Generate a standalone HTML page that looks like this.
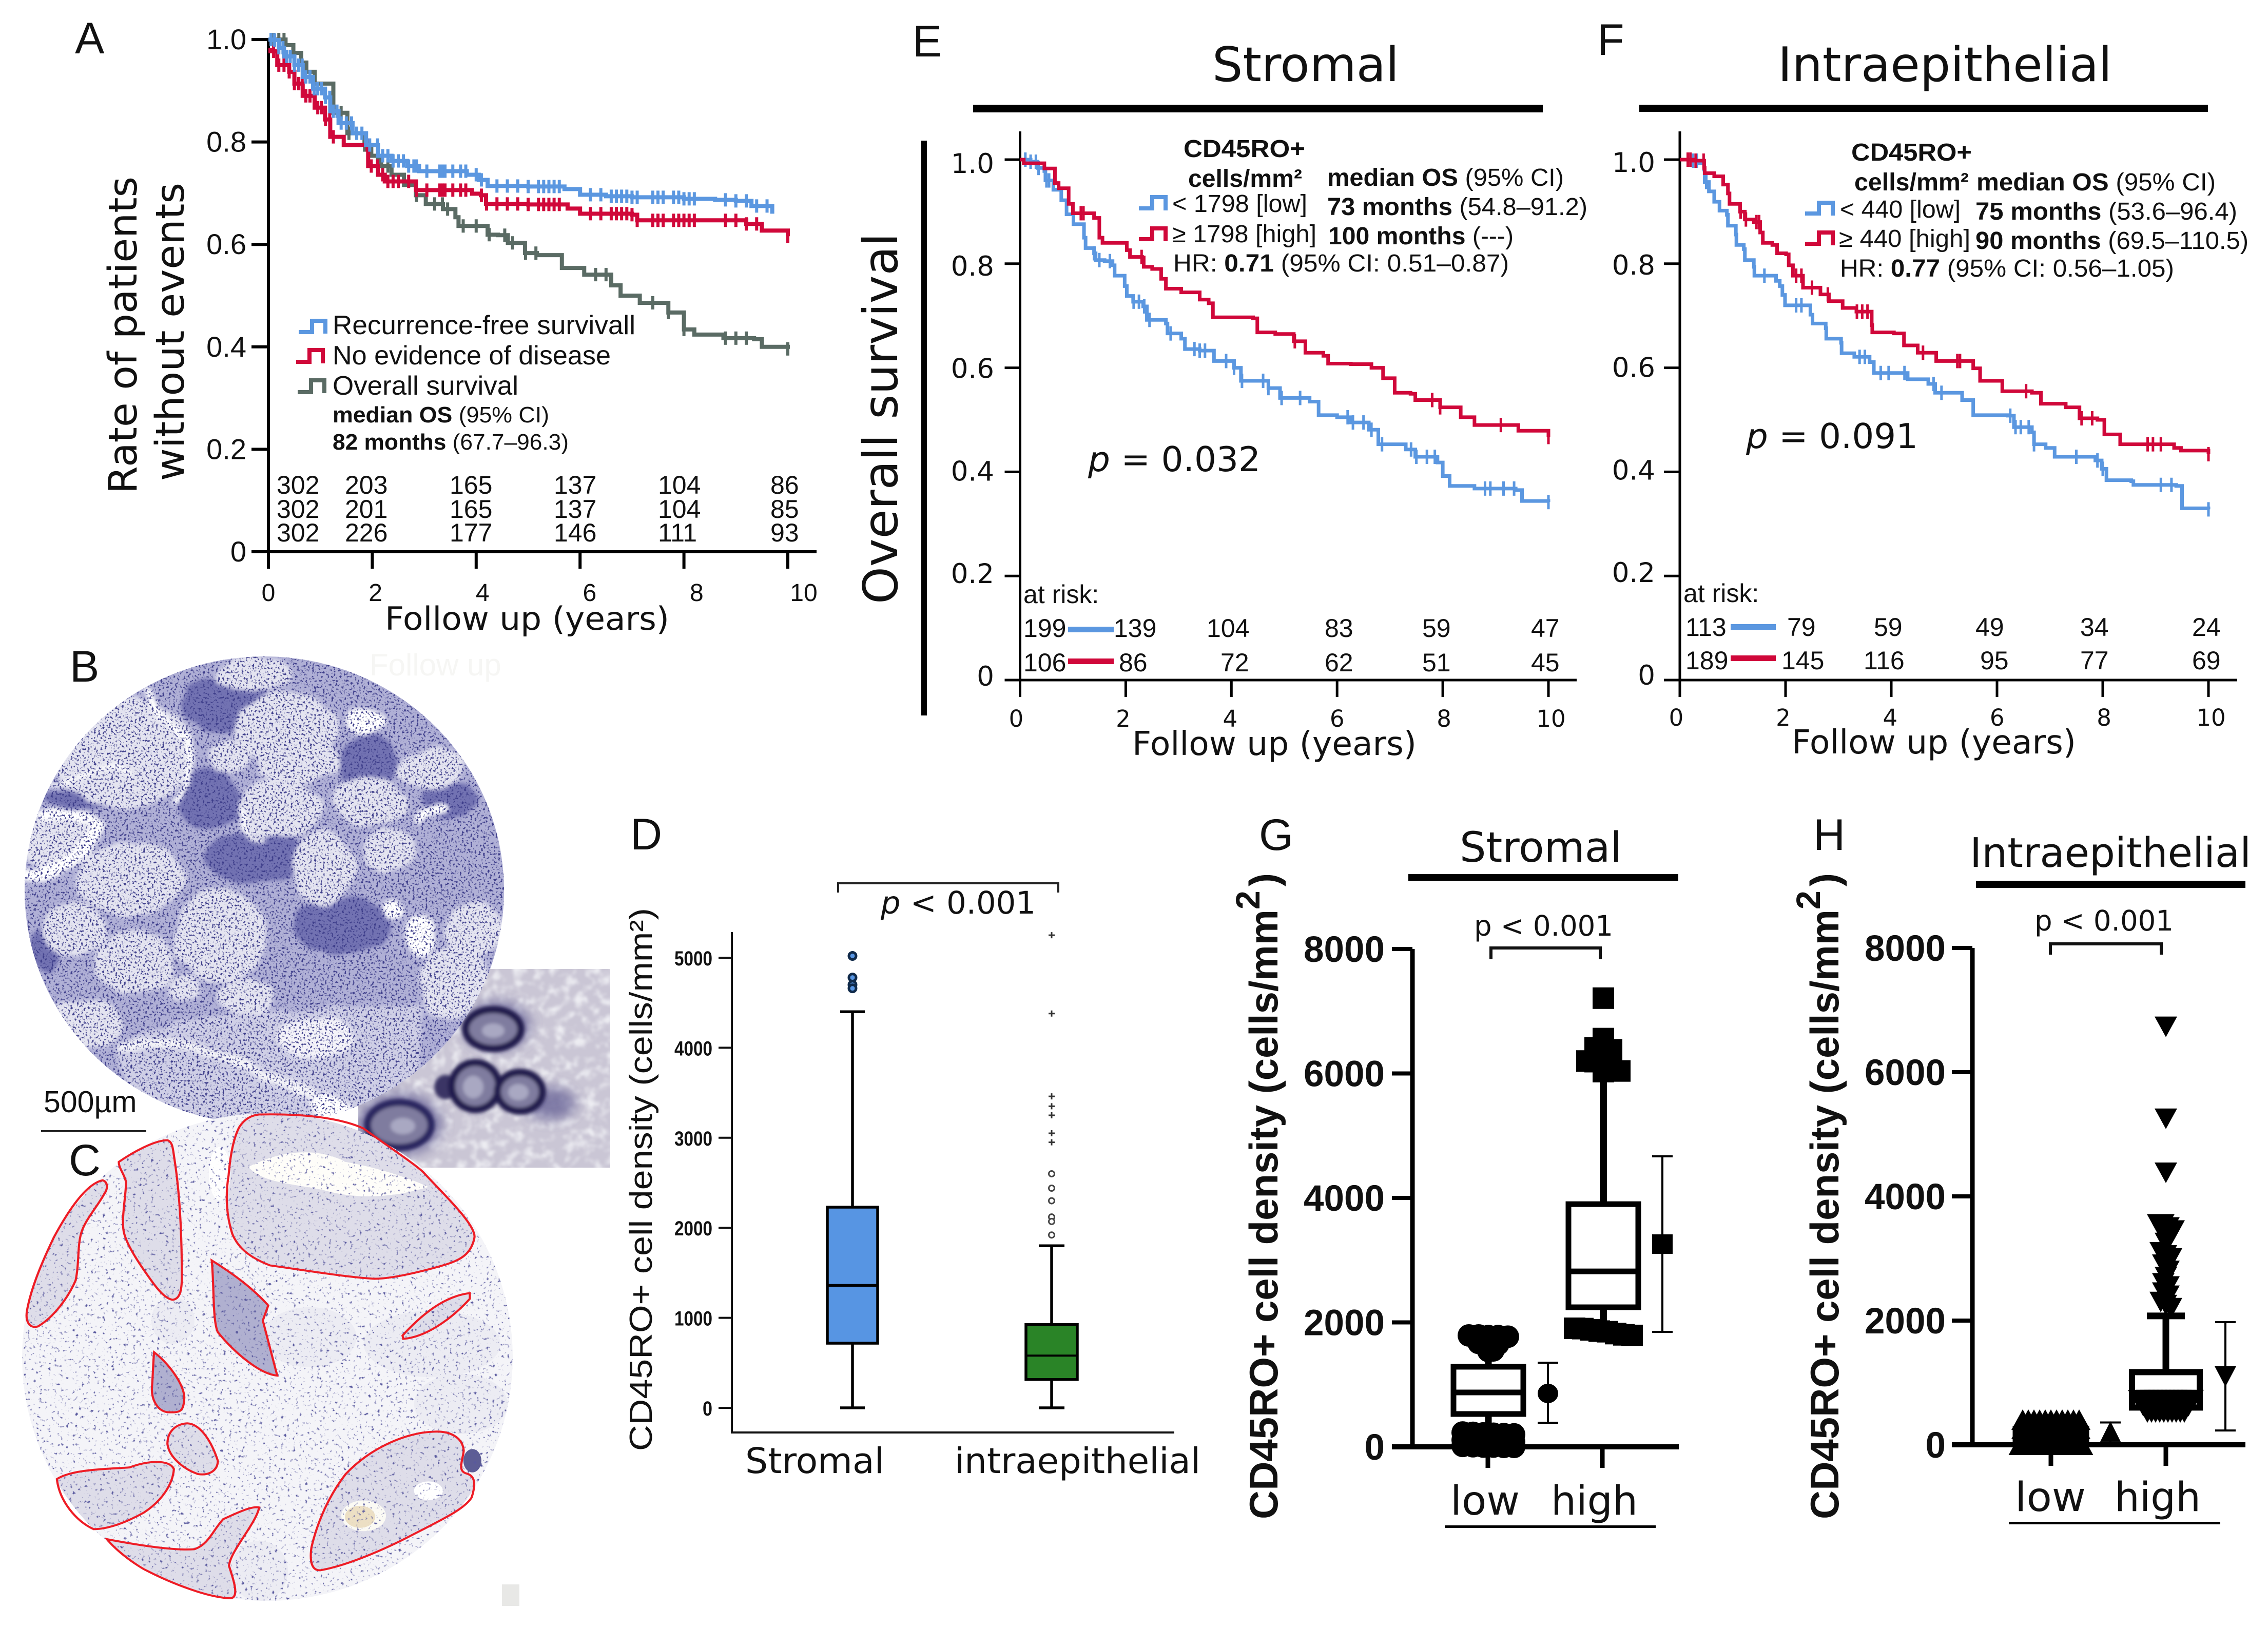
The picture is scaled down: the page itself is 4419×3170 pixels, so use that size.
<!DOCTYPE html>
<html lang="en">
<head>
<meta charset="utf-8">
<title>CD45RO+ survival and density figure</title>
<style>
html,body{margin:0;padding:0;background:#fff;}
svg{display:block;}
.ls{font-family:"Liberation Sans",sans-serif;}
.dj{font-family:"DejaVu Sans",sans-serif;}
text{fill:#111;}
.b{font-weight:700;}
.pl{font-family:"Liberation Sans",sans-serif;font-size:86px;}
</style>
</head>
<body>
<svg id="fig" xmlns="http://www.w3.org/2000/svg" width="4419" height="3170" viewBox="0 0 4419 3170">
<defs>
<filter id="speckleB" x="0" y="1250" width="1100" height="1000" filterUnits="userSpaceOnUse" color-interpolation-filters="sRGB">
<feTurbulence type="fractalNoise" baseFrequency=".018" numOctaves="2" seed="5" result="warp"/>
<feDisplacementMap in="SourceGraphic" in2="warp" scale="24" xChannelSelector="R" yChannelSelector="G" result="d"/>
<feGaussianBlur in="d" stdDeviation="4" result="base"/>
<feTurbulence type="fractalNoise" baseFrequency=".24" numOctaves="2" seed="3" result="n"/>
<feColorMatrix in="n" type="matrix" values="0 0 0 0 .24  0 0 0 0 .24  0 0 0 0 .54  7 0 0 0 -3.9" result="s"/>
<feComposite in="s" in2="SourceAlpha" operator="in" result="c"/>
<feMerge><feMergeNode in="base"/><feMergeNode in="c"/></feMerge>
</filter>
<filter id="speckleC" x="0" y="2150" width="1100" height="1000" filterUnits="userSpaceOnUse" color-interpolation-filters="sRGB">
<feTurbulence type="fractalNoise" baseFrequency=".17" numOctaves="2" seed="8" result="n"/>
<feColorMatrix in="n" type="matrix" values="0 0 0 0 .35  0 0 0 0 .35  0 0 0 0 .62  6 0 0 0 -3.8" result="s"/>
<feComposite in="s" in2="SourceAlpha" operator="in" result="c"/>
<feMerge><feMergeNode in="SourceGraphic"/><feMergeNode in="c"/></feMerge>
</filter>
<filter id="insetTexture" x="690" y="1880" width="510" height="400" filterUnits="userSpaceOnUse" color-interpolation-filters="sRGB">
<feTurbulence type="fractalNoise" baseFrequency=".05" numOctaves="3" seed="11" result="n"/>
<feColorMatrix in="n" type="matrix" values="0 0 0 0 .93  0 0 0 0 .93  0 0 0 0 .95  3 0 0 0 -1.35" result="w"/>
<feGaussianBlur in="w" stdDeviation="2.5" result="wb"/>
<feComposite in="wb" in2="SourceAlpha" operator="in" result="c"/>
<feMerge><feMergeNode in="SourceGraphic"/><feMergeNode in="c"/></feMerge>
</filter>
<filter id="soft" x="660" y="1860" width="560" height="440" filterUnits="userSpaceOnUse"><feGaussianBlur stdDeviation="3.5"/></filter>
<filter id="softer" x="660" y="1860" width="560" height="440" filterUnits="userSpaceOnUse"><feGaussianBlur stdDeviation="12"/></filter>
<clipPath id="clipB"><ellipse cx="515" cy="1735" rx="467" ry="456"/></clipPath>
<clipPath id="clipC"><ellipse cx="521" cy="2644" rx="478" ry="475"/></clipPath>
<clipPath id="clipInset"><rect x="698" y="1888" width="491" height="387"/></clipPath>
</defs>
<rect width="4419" height="3170" fill="#fff"/>

<!-- Panel labels -->
<text class="pl" x="146" y="104">A</text>
<text class="pl" x="136" y="1328">B</text>
<text class="pl" x="134" y="2290">C</text>
<text class="pl" x="1228" y="1655">D</text>
<text class="pl" x="1778" y="110">E</text>
<text class="pl" x="3112" y="107">F</text>
<text class="pl" x="2453" y="1656">G</text>
<text class="pl" x="3533" y="1656">H</text>

<text class="ls" x="720" y="1316" font-size="60" style="fill:#f6f6f4">Follow up</text>

<!-- Inset sits under the two tissue cores -->
<g clip-path="url(#clipInset)">
<rect x="698" y="1888" width="491" height="387" fill="#cac6d5" filter="url(#insetTexture)"/>
<g filter="url(#softer)" fill="#5d5890" opacity=".7">
<ellipse cx="1072" cy="2150" rx="50" ry="32"/><ellipse cx="778" cy="2190" rx="84" ry="62"/><ellipse cx="968" cy="1998" rx="66" ry="48"/>
</g>
<g filter="url(#soft)">
<ellipse cx="868" cy="2118" rx="22" ry="24" fill="#3a3565"/>
<g stroke="#201b4e" stroke-width="14" fill="#7f7c9f">
<ellipse cx="961" cy="2005" rx="54" ry="38"/>
<ellipse cx="926" cy="2116" rx="46" ry="46"/>
<ellipse cx="1013" cy="2127" rx="44" ry="38"/>
<ellipse cx="778" cy="2192" rx="62" ry="44" stroke="#2c2760"/>
</g>
<g fill="#a9a8c2"><ellipse cx="961" cy="2008" rx="22" ry="14"/><ellipse cx="922" cy="2118" rx="20" ry="22"/><ellipse cx="1010" cy="2128" rx="20" ry="16"/><ellipse cx="785" cy="2194" rx="24" ry="16"/></g>
</g>
</g>

<!-- Panel B tissue -->
<g clip-path="url(#clipB)">
<g filter="url(#speckleB)">
<g transform="translate(0,1250) scale(.797,.638)">
<ellipse cx="647" cy="760" rx="640" ry="780" fill="#b0b0d6"/>
<g fill="#7272b2">
<ellipse cx="550" cy="190" rx="110" ry="90"/><ellipse cx="510" cy="480" rx="75" ry="95"/><ellipse cx="630" cy="660" rx="130" ry="75"/>
<ellipse cx="900" cy="380" rx="70" ry="100"/><ellipse cx="830" cy="870" rx="120" ry="85"/><ellipse cx="1100" cy="480" rx="70" ry="60"/><ellipse cx="110" cy="940" rx="40" ry="70"/>
<ellipse cx="200" cy="480" rx="100" ry="28"/>
</g>
<g fill="#e4e4f0">
<ellipse cx="300" cy="340" rx="172" ry="168"/><ellipse cx="140" cy="610" rx="92" ry="86"/><ellipse cx="320" cy="725" rx="132" ry="112"/>
<ellipse cx="180" cy="880" rx="80" ry="84"/><ellipse cx="330" cy="980" rx="98" ry="95"/><ellipse cx="540" cy="900" rx="116" ry="142"/>
<ellipse cx="600" cy="1085" rx="68" ry="52"/><ellipse cx="450" cy="1060" rx="42" ry="42"/><ellipse cx="700" cy="270" rx="125" ry="112"/>
<ellipse cx="730" cy="370" rx="104" ry="64"/><ellipse cx="560" cy="350" rx="50" ry="50"/><ellipse cx="620" cy="100" rx="92" ry="55"/>
<ellipse cx="680" cy="510" rx="104" ry="92"/><ellipse cx="790" cy="690" rx="76" ry="112"/><ellipse cx="900" cy="490" rx="90" ry="72"/>
<ellipse cx="950" cy="640" rx="66" ry="66"/><ellipse cx="1050" cy="390" rx="82" ry="62"/><ellipse cx="1160" cy="880" rx="76" ry="80"/>
<ellipse cx="1110" cy="1040" rx="86" ry="112"/><ellipse cx="200" cy="1170" rx="96" ry="72"/><ellipse cx="510" cy="1420" rx="56" ry="36"/>
</g>
<path d="M280 1230 C 480 1110 760 1120 1040 1110 L 1000 1490 L 350 1490Z" fill="#cfcfe6"/>
<ellipse cx="770" cy="1210" rx="95" ry="65" fill="#f4f3f9"/>
<g fill="none" stroke="#fff" stroke-linecap="round">
<path d="M60 715 C 140 710 200 660 240 560 C 220 530 170 525 100 525" stroke-width="34"/>
<path d="M120 440 C 200 425 250 380 290 380 L 320 400" stroke-width="12"/>
<path d="M355 150 C 385 200 400 265 460 300 C 470 380 460 450 430 490" stroke-width="15"/>
<path d="M1020 535 L 1085 510" stroke-width="30"/>
<path d="M580 510 C 590 570 610 600 640 605" stroke-width="14"/>
<path d="M300 1240 C 440 1180 600 1300 760 1380" stroke="#f4f4f8" stroke-width="28"/>
</g>
<g fill="#fff"><ellipse cx="1030" cy="900" rx="35" ry="65"/><ellipse cx="960" cy="820" rx="30" ry="28"/><ellipse cx="893" cy="245" rx="44" ry="40"/>
<path d="M760 1400 L 800 1370 L 860 1420 L 820 1470 L 770 1460Z"/></g>
</g>
</g>
</g>

<!-- Scale bar -->
<text class="ls" x="85" y="2167" font-size="59">500µm</text>
<rect x="80" y="2202" width="205" height="4" fill="#222"/>

<!-- Panel C tissue -->
<g clip-path="url(#clipC)" filter="url(#speckleC)">
<ellipse cx="521" cy="2644" rx="478" ry="475" fill="#f4f4f8"/>
<g transform="translate(0,2150) scale(.7015,.6505)">
<g fill="#c9c9e2" opacity=".18">
<ellipse cx="1200" cy="720" rx="190" ry="100"/><ellipse cx="720" cy="1400" rx="80" ry="90"/><ellipse cx="860" cy="700" rx="130" ry="90"/><ellipse cx="1280" cy="900" rx="130" ry="90"/><ellipse cx="480" cy="650" rx="60" ry="70"/>
</g>
<g fill="#dedde9" stroke="none">
<path d="M720 33 C850 30 950 45 1010 75 C1080 130 1150 180 1175 205 C1230 270 1320 360 1318 400 C1310 450 1280 470 1230 485 C1150 510 1080 525 1040 525 C960 520 850 500 750 485 C690 460 660 430 645 390 C630 340 625 280 635 215 C640 150 650 100 665 70 C680 45 700 35 720 33Z"/>
<path d="M330 175 C370 145 430 110 465 110 C480 115 480 135 485 170 C495 240 505 350 505 520 C505 560 500 585 480 588 C460 585 440 560 420 530 C390 485 355 430 345 390 C335 350 350 280 350 235 C345 210 330 195 330 175Z"/>
<path d="M285 230 C300 235 300 255 290 270 C270 310 235 350 225 390 C215 430 220 480 210 530 C190 580 150 640 105 668 C80 675 70 650 75 620 C85 560 110 490 150 400 C190 320 240 240 285 230Z"/>
<path d="M1305 568 C1250 575 1190 610 1118 695 L1120 705 C1180 700 1250 650 1305 585Z"/>
<path d="M520 958 C560 960 590 1020 605 1070 C605 1100 580 1115 550 1110 C510 1095 470 1060 465 1020 C465 980 490 960 520 958Z"/>
<path d="M158 1125 C200 1095 300 1095 360 1090 C410 1070 470 1065 483 1095 C480 1140 450 1190 400 1225 C350 1255 300 1275 260 1275 C210 1250 165 1190 158 1125Z"/>
<path d="M297 1305 C370 1320 480 1340 540 1335 C580 1320 590 1280 620 1245 C660 1225 700 1205 720 1210 C710 1260 640 1340 636 1385 C650 1430 665 1480 640 1482 C580 1480 480 1440 400 1395 C360 1370 320 1335 297 1305Z"/>
<path d="M1205 983 C1250 980 1285 1000 1288 1040 C1285 1070 1270 1100 1295 1108 C1320 1115 1322 1140 1310 1180 C1290 1215 1230 1245 1140 1295 C1060 1340 960 1385 890 1398 C865 1400 860 1370 865 1330 C880 1260 910 1180 960 1110 C1030 1030 1130 985 1205 983Z"/>
<path fill="#b0b0d0" d="M588 470 C640 505 700 550 745 605 L730 650 L770 815 C720 810 650 745 605 685 C590 650 595 540 588 470Z"/>
<path fill="#b0b0d0" d="M428 745 C470 780 510 840 512 880 C510 925 500 925 470 925 C440 925 420 890 422 850 C425 810 425 780 428 745Z"/>
</g>
<path d="M690 190 C780 140 880 130 960 175 C1040 190 1130 220 1190 250 C1100 280 1000 290 900 260 C820 240 730 240 690 190Z" fill="#fefdf9"/>
<ellipse cx="610" cy="210" rx="30" ry="80" fill="#fefefe"/>
<ellipse cx="1190" cy="1160" rx="40" ry="28" fill="#fff"/>
<ellipse cx="1010" cy="1235" rx="62" ry="46" fill="#fbfaf4"/>
<ellipse cx="1000" cy="1238" rx="42" ry="33" fill="#ecdfc4"/>
<ellipse cx="1312" cy="1070" rx="25" ry="35" fill="#5d5d95"/>
</g>
</g>
<g transform="translate(0,2150) scale(.7015,.6505)" fill="none" stroke="#ee1c25" stroke-width="6">
<path d="M720 33 C850 30 950 45 1010 75 C1080 130 1150 180 1175 205 C1230 270 1320 360 1318 400 C1310 450 1280 470 1230 485 C1150 510 1080 525 1040 525 C960 520 850 500 750 485 C690 460 660 430 645 390 C630 340 625 280 635 215 C640 150 650 100 665 70 C680 45 700 35 720 33Z"/>
<path d="M330 175 C370 145 430 110 465 110 C480 115 480 135 485 170 C495 240 505 350 505 520 C505 560 500 585 480 588 C460 585 440 560 420 530 C390 485 355 430 345 390 C335 350 350 280 350 235 C345 210 330 195 330 175Z"/>
<path d="M285 230 C300 235 300 255 290 270 C270 310 235 350 225 390 C215 430 220 480 210 530 C190 580 150 640 105 668 C80 675 70 650 75 620 C85 560 110 490 150 400 C190 320 240 240 285 230Z"/>
<path d="M588 470 C640 505 700 550 745 605 L730 650 L770 815 C720 810 650 745 605 685 C590 650 595 540 588 470Z"/>
<path d="M1305 568 C1250 575 1190 610 1118 695 L1120 705 C1180 700 1250 650 1305 585Z"/>
<path d="M428 745 C470 780 510 840 512 880 C510 925 500 925 470 925 C440 925 420 890 422 850 C425 810 425 780 428 745Z"/>
<path d="M520 958 C560 960 590 1020 605 1070 C605 1100 580 1115 550 1110 C510 1095 470 1060 465 1020 C465 980 490 960 520 958Z"/>
<path d="M158 1125 C200 1095 300 1095 360 1090 C410 1070 470 1065 483 1095 C480 1140 450 1190 400 1225 C350 1255 300 1275 260 1275 C210 1250 165 1190 158 1125Z"/>
<path d="M297 1305 C370 1320 480 1340 540 1335 C580 1320 590 1280 620 1245 C660 1225 700 1205 720 1210 C710 1260 640 1340 636 1385 C650 1430 665 1480 640 1482 C580 1480 480 1440 400 1395 C360 1370 320 1335 297 1305Z"/>
<path d="M1205 983 C1250 980 1285 1000 1288 1040 C1285 1070 1270 1100 1295 1108 C1320 1115 1322 1140 1310 1180 C1290 1215 1230 1245 1140 1295 C1060 1340 960 1385 890 1398 C865 1400 860 1370 865 1330 C880 1260 910 1180 960 1110 C1030 1030 1130 985 1205 983Z"/>
</g>
<rect x="978" y="3087" width="34" height="42" fill="#e8e8e6"/>

<!-- Panel A static text -->
<text class="dj" transform="translate(266,962) rotate(-90)" font-size="77" textLength="618" lengthAdjust="spacingAndGlyphs">Rate of patients</text>
<text class="dj" transform="translate(358,937) rotate(-90)" font-size="77" textLength="581" lengthAdjust="spacingAndGlyphs">without events</text>
<text class="dj" x="750" y="1227" font-size="62" textLength="554" lengthAdjust="spacingAndGlyphs">Follow up (years)</text>
<g fill="none" stroke-width="8">
<path d="M582 647 H608 V625 H634 V650" stroke="#5b97e0"/>
<path d="M577 705 H603 V682 H629 V708" stroke="#d0083a"/>
<path d="M580 764 H606 V741 H632 V766" stroke="#5a6b64"/>
</g>
<g class="ls" font-size="52">
<text x="648" y="651" textLength="590" lengthAdjust="spacingAndGlyphs">Recurrence-free survivall</text>
<text x="648" y="710" textLength="542" lengthAdjust="spacingAndGlyphs">No evidence of disease</text>
<text x="648" y="769" textLength="362" lengthAdjust="spacingAndGlyphs">Overall survival</text>
</g>
<g class="ls" font-size="44">
<text x="648" y="823" textLength="422" lengthAdjust="spacingAndGlyphs"><tspan class="b">median OS</tspan> (95% CI)</text>
<text x="648" y="876" textLength="460" lengthAdjust="spacingAndGlyphs"><tspan class="b">82 months</tspan> (67.7–96.3)</text>
</g>
<g class="ls" font-size="50">
<text x="539" y="962">302</text><text x="672" y="962">203</text><text x="876" y="962">165</text><text x="1079" y="962">137</text><text x="1282" y="962">104</text><text x="1501" y="962">86</text>
<text x="539" y="1009">302</text><text x="672" y="1009">201</text><text x="876" y="1009">165</text><text x="1079" y="1009">137</text><text x="1282" y="1009">104</text><text x="1501" y="1009">85</text>
<text x="539" y="1055">302</text><text x="672" y="1055">226</text><text x="876" y="1055">177</text><text x="1079" y="1055">146</text><text x="1282" y="1055">111</text><text x="1501" y="1055">93</text>
</g>

<!-- Panel E static -->
<text class="dj" x="2362" y="158" font-size="93" textLength="364" lengthAdjust="spacingAndGlyphs">Stromal</text>
<rect x="1896" y="204" width="1110" height="15" fill="#000"/>
<rect x="1795" y="274" width="11" height="1120" fill="#000"/>
<text class="dj" transform="translate(1748,1177) rotate(-90)" font-size="93" textLength="723" lengthAdjust="spacingAndGlyphs">Overall survival</text>
<text class="dj" x="2206" y="1471" font-size="64" textLength="554" lengthAdjust="spacingAndGlyphs">Follow up (years)</text>
<text class="dj" x="2120" y="918" font-size="67" textLength="336" lengthAdjust="spacingAndGlyphs"><tspan font-style="italic">p</tspan> = 0.032</text>
<g class="ls" font-size="48">
<text class="b" x="2306" y="306" textLength="237" lengthAdjust="spacingAndGlyphs">CD45RO+</text>
<text class="b" x="2315" y="364" textLength="222" lengthAdjust="spacingAndGlyphs">cells/mm²</text>
<text x="2586" y="362" textLength="461" lengthAdjust="spacingAndGlyphs"><tspan class="b">median OS</tspan> (95% CI)</text>
<text x="2284" y="413" textLength="263" lengthAdjust="spacingAndGlyphs">&lt; 1798 [low]</text>
<text x="2586" y="419" textLength="507" lengthAdjust="spacingAndGlyphs"><tspan class="b">73 months</tspan> (54.8–91.2)</text>
<text x="2284" y="472" textLength="281" lengthAdjust="spacingAndGlyphs">≥ 1798 [high]</text>
<text x="2588" y="476" textLength="361" lengthAdjust="spacingAndGlyphs"><tspan class="b">100 months</tspan> (---)</text>
<text x="2286" y="529" textLength="654" lengthAdjust="spacingAndGlyphs">HR: <tspan class="b">0.71</tspan> (95% CI: 0.51–0.87)</text>
</g>
<path d="M2219 406 H2245 V384 H2271 V410" fill="none" stroke="#5b97e0" stroke-width="8"/>
<path d="M2219 466 H2245 V445 H2271 V470" fill="none" stroke="#d0083a" stroke-width="8"/>
<g class="ls" font-size="50">
<text x="1994" y="1175">at risk:</text>
<text x="1994" y="1241">199</text><text x="2170" y="1241">139</text><text x="2351" y="1241">104</text><text x="2581" y="1241">83</text><text x="2771" y="1241">59</text><text x="2983" y="1241">47</text>
<text x="1994" y="1308">106</text><text x="2180" y="1308">86</text><text x="2378" y="1308">72</text><text x="2581" y="1308">62</text><text x="2771" y="1308">51</text><text x="2983" y="1308">45</text>
</g>
<rect x="2081" y="1221" width="89" height="11" fill="#5b97e0"/>
<rect x="2081" y="1283" width="89" height="11" fill="#d0083a"/>

<!-- Panel F static -->
<text class="dj" x="3464" y="158" font-size="93" textLength="651" lengthAdjust="spacingAndGlyphs">Intraepithelial</text>
<rect x="3194" y="204" width="1108" height="14" fill="#000"/>
<text class="dj" x="3491" y="1468" font-size="64" textLength="554" lengthAdjust="spacingAndGlyphs">Follow up (years)</text>
<text class="dj" x="3402" y="873" font-size="67" textLength="335" lengthAdjust="spacingAndGlyphs"><tspan font-style="italic">p</tspan> = 0.091</text>
<g class="ls" font-size="48">
<text class="b" x="3607" y="313" textLength="235" lengthAdjust="spacingAndGlyphs">CD45RO+</text>
<text class="b" x="3613" y="371" textLength="223" lengthAdjust="spacingAndGlyphs">cells/mm²</text>
<text x="3851" y="371" textLength="466" lengthAdjust="spacingAndGlyphs"><tspan class="b">median OS</tspan> (95% CI)</text>
<text x="3585" y="424" textLength="235" lengthAdjust="spacingAndGlyphs">&lt; 440 [low]</text>
<text x="3849" y="428" textLength="510" lengthAdjust="spacingAndGlyphs"><tspan class="b">75 months</tspan> (53.6–96.4)</text>
<text x="3583" y="481" textLength="256" lengthAdjust="spacingAndGlyphs">≥ 440 [high]</text>
<text x="3849" y="485" textLength="532" lengthAdjust="spacingAndGlyphs"><tspan class="b">90 months</tspan> (69.5–110.5)</text>
<text x="3585" y="539" textLength="651" lengthAdjust="spacingAndGlyphs">HR: <tspan class="b">0.77</tspan> (95% CI: 0.56–1.05)</text>
</g>
<path d="M3517 416 H3544 V395 H3571 V420" fill="none" stroke="#5b97e0" stroke-width="8"/>
<path d="M3517 475 H3544 V453 H3571 V478" fill="none" stroke="#d0083a" stroke-width="8"/>
<g class="ls" font-size="50">
<text x="3280" y="1173">at risk:</text>
<text x="3284" y="1239">113</text><text x="3482" y="1239">79</text><text x="3651" y="1239">59</text><text x="3849" y="1239">49</text><text x="4053" y="1239">34</text><text x="4271" y="1239">24</text>
<text x="3284" y="1304">189</text><text x="3471" y="1304">145</text><text x="3631" y="1304">116</text><text x="3858" y="1304">95</text><text x="4053" y="1304">77</text><text x="4271" y="1304">69</text>
</g>
<rect x="3372" y="1216" width="88" height="11" fill="#5b97e0"/>
<rect x="3372" y="1277" width="88" height="11" fill="#d0083a"/>

<!-- Panel D static -->
<text class="ls" transform="translate(1270,2827) rotate(-90)" font-size="62" textLength="1058" lengthAdjust="spacingAndGlyphs">CD45RO+ cell density (cells/mm²)</text>
<path d="M1633 1739 V1721 H2062 V1739" fill="none" stroke="#222" stroke-width="4"/>
<text class="dj" x="1716" y="1780" font-size="61" textLength="302" lengthAdjust="spacingAndGlyphs"><tspan font-style="italic">p</tspan> &lt; 0.001</text>
<text class="dj" x="1452" y="2870" font-size="69" textLength="271" lengthAdjust="spacingAndGlyphs">Stromal</text>
<text class="dj" x="1860" y="2870" font-size="69" textLength="479" lengthAdjust="spacingAndGlyphs">intraepithelial</text>

<!-- Panel G static -->
<text class="dj" x="2844" y="1679" font-size="81" textLength="316" lengthAdjust="spacingAndGlyphs">Stromal</text>
<rect x="2744" y="1703" width="526" height="13" fill="#000"/>
<text class="dj" x="2872" y="1823" font-size="55" textLength="271" lengthAdjust="spacingAndGlyphs">p &lt; 0.001</text>
<path d="M2905 1869 V1847 H3118 V1869" fill="none" stroke="#111" stroke-width="6"/>
<text class="ls b" transform="translate(2489,2960) rotate(-90)" font-size="78" textLength="1188" lengthAdjust="spacingAndGlyphs">CD45RO+ cell density (cells/mm</text>
<text class="ls b" transform="translate(2454,1772) rotate(-90)" font-size="66">2</text>
<text class="ls b" transform="translate(2489,1727) rotate(-90)" font-size="78">)</text>
<text class="dj" x="2826" y="2951" font-size="78" textLength="135" lengthAdjust="spacingAndGlyphs">low</text>
<text class="dj" x="3022" y="2951" font-size="78" textLength="169" lengthAdjust="spacingAndGlyphs">high</text>
<rect x="2815" y="2972" width="411" height="5" fill="#000"/>

<!-- Panel H static -->
<text class="dj" x="3838" y="1689" font-size="79" textLength="548" lengthAdjust="spacingAndGlyphs">Intraepithelial</text>
<rect x="3850" y="1716" width="525" height="14" fill="#000"/>
<text class="dj" x="3964" y="1813" font-size="55" textLength="271" lengthAdjust="spacingAndGlyphs">p &lt; 0.001</text>
<path d="M3995 1860 V1839 H4211 V1860" fill="none" stroke="#111" stroke-width="6"/>
<text class="ls b" transform="translate(3582,2960) rotate(-90)" font-size="78" textLength="1188" lengthAdjust="spacingAndGlyphs">CD45RO+ cell density (cells/mm</text>
<text class="ls b" transform="translate(3546,1772) rotate(-90)" font-size="66">2</text>
<text class="ls b" transform="translate(3582,1727) rotate(-90)" font-size="78">)</text>
<text class="dj" x="3926" y="2944" font-size="78" textLength="138" lengthAdjust="spacingAndGlyphs">low</text>
<text class="dj" x="4120" y="2944" font-size="78" textLength="168" lengthAdjust="spacingAndGlyphs">high</text>
<rect x="3914" y="2965" width="412" height="5" fill="#000"/>

<g id="charts"></g>
</svg>

<script>
// Shared axis values
const kmXTicks = [0, 2, 4, 6, 8, 10];
const kmXLabels = ['0', '2', '4', '6', '8', '10'];
const kmYTicks = [0, 0.2, 0.4, 0.6, 0.8, 1];
const kmYLabels = ['0', '0.2', '0.4', '0.6', '0.8', '1.0'];
const dYTicks = [0, 1000, 2000, 3000, 4000, 5000];
const dYLabels = ['0', '1000', '2000', '3000', '4000', '5000'];
const ghYTicks = [0, 2000, 4000, 6000, 8000];
const ghYLabels = ['0', '2000', '4000', '6000', '8000'];

// Panel A
const aRfsTime = [0, 0.07, 0.2, 0.3, 0.5, 0.66, 0.86, 1.09, 1.19, 1.35, 1.62, 1.88, 2.11, 2.37, 2.67, 2.9, 3.82, 4.05, 4.22, 5.0, 5.7, 6.0, 6.5, 7.0, 8.0, 8.6, 9.0, 9.3, 9.7];
const aRfsSurv = [1.0, 0.999, 0.984, 0.967, 0.95, 0.927, 0.904, 0.887, 0.86, 0.837, 0.817, 0.794, 0.773, 0.763, 0.753, 0.743, 0.736, 0.726, 0.714, 0.713, 0.708, 0.697, 0.694, 0.692, 0.689, 0.687, 0.685, 0.675, 0.66];
const aRfsCensor = [0.05, 0.12, 0.2, 0.28, 0.35, 0.42, 0.5, 0.58, 0.65, 0.72, 0.8, 0.88, 0.95, 1.02, 1.1, 1.18, 1.25, 1.32, 1.4, 1.5, 1.6, 1.7, 1.8, 1.95, 2.1, 2.2, 2.3, 2.4, 2.5, 2.6, 2.7, 2.8, 2.85, 3.05, 3.3, 3.35, 3.4, 3.55, 3.7, 3.8, 4.0, 4.1, 4.4, 4.6, 4.8, 5.0, 5.2, 5.3, 5.4, 5.5, 5.6, 6.2, 6.4, 6.6, 6.7, 6.8, 6.9, 7.0, 7.1, 7.4, 7.5, 7.6, 7.8, 7.9, 8.0, 8.1, 8.2, 8.8, 9.0, 9.2, 9.4, 9.6];
const aNedTime = [0, 0.04, 0.17, 0.4, 0.5, 0.66, 0.89, 1.09, 1.19, 1.45, 1.92, 2.11, 2.24, 2.57, 2.84, 3.92, 4.09, 4.19, 5.0, 5.76, 6.0, 7.0, 7.1, 8.5, 9.2, 9.5, 10];
const aNedSurv = [0.98, 0.977, 0.95, 0.937, 0.914, 0.89, 0.867, 0.844, 0.81, 0.794, 0.753, 0.736, 0.723, 0.723, 0.706, 0.699, 0.696, 0.679, 0.678, 0.67, 0.66, 0.658, 0.647, 0.647, 0.64, 0.627, 0.616];
const aNedCensor = [0.1, 0.2, 0.3, 0.4, 0.5, 0.58, 0.65, 0.72, 0.8, 0.88, 0.95, 1.02, 1.1, 1.18, 1.25, 1.9, 1.98, 2.1, 2.2, 2.3, 2.4, 2.5, 2.7, 2.85, 3.05, 3.3, 3.35, 3.4, 3.55, 3.7, 3.8, 4.1, 4.2, 4.4, 4.6, 4.8, 5.0, 5.2, 5.3, 5.4, 5.5, 5.6, 6.2, 6.4, 6.6, 6.7, 6.8, 6.9, 7.0, 7.1, 7.4, 7.5, 7.6, 7.8, 7.9, 8.0, 8.1, 8.2, 8.8, 9.0, 9.2, 9.4, 10];
const aOsTime = [0, 0.2, 0.33, 0.48, 0.63, 0.73, 0.89, 1.25, 1.52, 1.85, 1.98, 2.17, 2.37, 2.61, 2.84, 3.03, 3.36, 3.6, 3.66, 4.02, 4.22, 4.42, 4.61, 4.94, 5.17, 5.65, 6.08, 6.6, 6.78, 7.15, 7.7, 8.0, 8.2, 8.76, 9.35, 9.5, 10];
const aOsSurv = [1.0, 1.0, 0.989, 0.974, 0.955, 0.937, 0.914, 0.857, 0.817, 0.794, 0.773, 0.753, 0.736, 0.716, 0.696, 0.679, 0.669, 0.653, 0.636, 0.636, 0.619, 0.618, 0.603, 0.583, 0.579, 0.554, 0.541, 0.52, 0.50, 0.486, 0.467, 0.434, 0.424, 0.417, 0.415, 0.40, 0.396];
const aOsCensor = [0.1, 0.2, 0.3, 1.4, 1.55, 1.85, 2.1, 2.3, 2.85, 3.2, 3.35, 3.45, 3.75, 4.0, 4.25, 4.55, 4.7, 4.95, 5.15, 6.3, 6.5, 7.4, 7.7, 8.0, 8.8, 9.0, 9.2, 10];

// Panel E
const eLowTime = [0, 0.2, 0.33, 0.46, 0.48, 0.63, 0.78, 0.88, 1.01, 1.21, 1.24, 1.4, 1.43, 1.6, 1.75, 1.79, 1.98, 2.02, 2.14, 2.33, 2.4, 2.76, 2.79, 3.05, 3.12, 3.4, 3.67, 4.05, 4.18, 4.7, 4.92, 5.48, 5.65, 6.0, 6.26, 6.6, 6.78, 7.3, 7.48, 7.9, 8.0, 8.13, 8.6, 9.38, 9.5, 10];
const eLowSurv = [1.0, 0.996, 0.984, 0.978, 0.96, 0.942, 0.922, 0.895, 0.876, 0.85, 0.83, 0.82, 0.807, 0.805, 0.797, 0.777, 0.757, 0.738, 0.727, 0.718, 0.692, 0.685, 0.666, 0.656, 0.636, 0.633, 0.613, 0.60, 0.575, 0.561, 0.542, 0.535, 0.509, 0.505, 0.495, 0.481, 0.453, 0.443, 0.429, 0.418, 0.392, 0.373, 0.368, 0.365, 0.344, 0.342];
const eLowCensor = [0.1, 0.2, 0.3, 0.35, 0.5, 0.55, 1.4, 1.5, 1.7, 2.15, 2.25, 2.35, 2.45, 2.85, 3.3, 3.4, 3.5, 3.9, 4.05, 4.2, 4.6, 4.7, 4.95, 5.3, 6.2, 6.3, 6.5, 6.65, 6.85, 7.4, 7.5, 7.7, 7.85, 8.8, 8.9, 9.15, 9.35, 10];
const eHighTime = [0, 0.07, 0.46, 0.49, 0.66, 0.73, 0.92, 1.0, 1.4, 1.5, 1.56, 1.92, 2.02, 2.08, 2.31, 2.34, 2.5, 2.67, 2.76, 3.05, 3.21, 3.4, 3.57, 3.65, 4.41, 4.49, 4.83, 5.18, 5.4, 5.74, 5.83, 6.26, 6.65, 6.87, 7.09, 7.39, 7.48, 7.82, 7.95, 8.34, 8.6, 9.38, 9.43, 9.8, 10];
const eHighSurv = [1.0, 0.993, 0.983, 0.983, 0.955, 0.945, 0.915, 0.897, 0.888, 0.85, 0.84, 0.84, 0.826, 0.813, 0.812, 0.794, 0.79, 0.771, 0.752, 0.745, 0.745, 0.731, 0.724, 0.697, 0.695, 0.668, 0.665, 0.651, 0.629, 0.623, 0.608, 0.607, 0.60, 0.58, 0.552, 0.55, 0.538, 0.538, 0.524, 0.505, 0.49, 0.49, 0.479, 0.479, 0.467];
const eHighCensor = [1.15, 1.2, 2.3, 5.2, 7.8, 7.95, 9.1, 10];

// Panel F
const fLowTime = [0, 0.23, 0.36, 0.46, 0.47, 0.55, 0.65, 0.75, 0.89, 0.91, 1.06, 1.07, 1.21, 1.23, 1.4, 1.41, 1.72, 1.82, 1.89, 1.94, 1.99, 2.33, 2.47, 2.51, 2.76, 2.77, 3.05, 3.06, 3.3, 3.59, 3.67, 4.31, 4.7, 4.83, 5.34, 5.55, 6.2, 6.32, 6.66, 6.7, 6.92, 7.09, 7.86, 7.98, 8.07, 8.54, 8.58, 9.39, 9.5, 10];
const fLowSurv = [1.0, 0.998, 0.993, 0.981, 0.957, 0.939, 0.919, 0.902, 0.894, 0.873, 0.856, 0.836, 0.828, 0.807, 0.794, 0.777, 0.777, 0.767, 0.757, 0.74, 0.72, 0.72, 0.702, 0.685, 0.676, 0.656, 0.648, 0.628, 0.621, 0.611, 0.59, 0.578, 0.569, 0.552, 0.538, 0.509, 0.508, 0.486, 0.476, 0.453, 0.446, 0.429, 0.422, 0.406, 0.384, 0.382, 0.375, 0.373, 0.33, 0.328];
const fLowCensor = [0.25, 0.32, 0.5, 1.6, 2.2, 2.3, 3.4, 3.5, 3.8, 3.95, 4.25, 4.8, 4.95, 6.25, 6.35, 6.45, 6.6, 6.7, 7.5, 7.9, 8.0, 9.1, 9.3, 10];
const fHighTime = [0, 0.26, 0.46, 0.47, 0.65, 0.82, 0.91, 0.94, 1.14, 1.23, 1.4, 1.52, 1.57, 1.75, 1.84, 2.01, 2.06, 2.14, 2.33, 2.66, 2.82, 3.08, 3.34, 3.63, 3.64, 4.05, 4.24, 4.5, 4.85, 5.55, 5.68, 6.1, 6.66, 6.83, 7.3, 7.56, 7.9, 8.03, 8.33, 9.35, 9.48, 10];
const fHighSurv = [1.0, 0.998, 0.984, 0.974, 0.968, 0.952, 0.935, 0.915, 0.90, 0.885, 0.88, 0.86, 0.84, 0.836, 0.82, 0.818, 0.797, 0.777, 0.754, 0.741, 0.728, 0.715, 0.708, 0.682, 0.668, 0.666, 0.643, 0.629, 0.613, 0.599, 0.575, 0.555, 0.552, 0.531, 0.524, 0.503, 0.50, 0.472, 0.453, 0.446, 0.441, 0.434];
const fHighCensor = [0.15, 0.2, 0.3, 0.45, 1.15, 1.25, 1.45, 1.5, 2.2, 2.3, 2.5, 2.8, 3.35, 3.45, 3.55, 4.6, 5.25, 5.3, 6.55, 7.6, 7.8, 8.85, 8.95, 9.1, 10];

// Panel D: [low, q1, median, q3, high]
const dStromalBox = [0, 718, 1360, 2229, 4400];
const dIntraBox = [0, 315, 580, 925, 1800];
const dStromalOutliers = [5020, 4780, 4700, 4660];
const dIntraCircles = [2600, 2440, 2300, 2120, 2070, 1920];
const dIntraStars = [5250, 4380, 3460, 3350, 3250, 3050, 2950];

// Panel G: [low, q1, median, q3, high]
const gLowBox = [230, 528, 874, 1287, 1530];
const gHighBox = [1950, 2243, 2820, 3900, 6000];
const gLowPointsTop = [1790, 1790, 1780, 1780, 1770, 1670, 1660, 1650, 1640, 1550, 1540];
const gLowPointsBottom = [230, 225, 215, 210, 205, 200, 110, 100, 95, 90, 85, 80, 15, 10, 5, 5, 0, 0];
const gHighPointsTop = [7210, 6560, 6410, 6400, 6380, 6210, 6200, 6190, 6060, 6050, 6040, 6030];
const gHighPointsBottom = [1905, 1900, 1880, 1860, 1850, 1820, 1800, 1790];
const gLowMean = [388, 858, 1352];
const gHighMean = [1847, 3258, 4668];

// Panel H: [low, q1, median, q3, high]
const hLowBox = [0, 80, 150, 260, 400];
const hHighBox = [600, 600, 770, 1170, 2075];
const hLowPoints = [405, 405, 405, 405, 405, 405, 405, 405, 405, 405, 405, 260, 260, 260, 260, 260, 260, 260, 260, 260, 260, 260, 130, 130, 130, 130, 130, 130, 130, 130, 130, 130, 0, 0, 0, 0, 0, 0, 0, 0, 0, 0, 0, 0];
const hHighPointsTop = [6730, 5250, 4380, 3550, 3550, 3500, 3450, 3400, 3300, 3250, 3100, 3050, 3000, 2900, 2800, 2700, 2600, 2550, 2450, 2400, 2300, 2250, 2200];
const hHighPointsBottom = [720, 720, 720, 720, 720, 720, 720, 720, 720, 720, 720, 720, 720, 720, 620, 620, 620, 620, 620, 620, 620, 620, 620, 620, 620, 620, 520, 520, 520, 520, 520, 520, 520, 520, 520, 520];
const hLowMean = [0, 215, 360];
const hHighMean = [230, 1100, 1975];

const NS = 'http://www.w3.org/2000/svg';
const root = document.getElementById('charts');
function node(parent, tag, attrs) {
  const el = document.createElementNS(NS, tag);
  for (const k in attrs) el.setAttribute(k, attrs[k]);
  parent.appendChild(el);
  return el;
}
function named(el, name) {
  
  
  return el;
}
function label(parent, x, y, str, cls, size, anchor, name) {
  const el = node(parent, 'text', {x: x, y: y, class: cls, 'font-size': size, 'text-anchor': anchor});
  el.textContent = str;
  
  
  return el;
}
function stepPath(ts, vs, X, Y) {
  let d = 'M' + X(ts[0]) + ' ' + Y(vs[0]);
  for (let i = 1; i < ts.length; i++) d += ' H' + X(ts[i]) + ' V' + Y(vs[i]);
  return d;
}
function survivalAt(ts, vs, t) {
  let v = vs[0];
  for (let i = 0; i < ts.length; i++) if (ts[i] <= t) v = vs[i];
  return v;
}
function drawCurve(parent, name, ts, vs, cens, X, Y, color, w, tickH, tickW) {
  const g = named(node(parent, 'g', {}), name);
  const line = node(g, 'path', {d: stepPath(ts, vs, X, Y), fill: 'none', stroke: color, 'stroke-width': w});
  
  
  cens.forEach(function (t) {
    const y = Y(survivalAt(ts, vs, t));
    const m = node(g, 'path', {d: 'M' + X(t) + ' ' + (y - tickH) + ' V' + (y + tickH), stroke: color, 'stroke-width': tickW, fill: 'none'});
    
    
  });
}
function drawKMAxes(c) {
  const g = named(node(root, 'g', {}), c.name + '-axes');
  const X = c.X, Y = c.Y;
  node(g, 'path', {d: 'M' + X(0) + ' ' + c.top + ' V' + Y(0), stroke: '#000', 'stroke-width': c.w, fill: 'none'});
  node(g, 'path', {d: 'M' + c.left + ' ' + Y(0) + ' H' + c.right, stroke: '#000', 'stroke-width': c.w, fill: 'none'});
  kmXTicks.forEach(function (t, i) {
    const tick = node(g, 'path', {d: 'M' + X(t) + ' ' + Y(0) + ' V' + (Y(0) + c.tickDown), stroke: '#000', 'stroke-width': c.w, fill: 'none'});
    
    
    label(g, c.xLab(t), c.xLabY, kmXLabels[i], c.font, c.xSize, 'middle', c.name + '-x-tick-label');
  });
  kmYTicks.forEach(function (v, i) {
    const tick = node(g, 'path', {d: 'M' + (X(0) - c.tickLeft) + ' ' + Y(v) + ' H' + X(0), stroke: '#000', 'stroke-width': c.w, fill: 'none'});
    
    
    label(g, c.yLabX, c.yLab(v), kmYLabels[i], c.font, c.ySize, 'end', c.name + '-y-tick-label');
  });
}

// Panel A
const aX = function (t) { return 523 + t * 101.2; };
const aY = function (v) { return 1075 - v * 998; };
drawKMAxes({name: 'a', X: aX, Y: aY, top: 77, left: 490, right: 1591, w: 6, tickDown: 33, tickLeft: 33,
  xLab: function (t) { return 523 + t * 104.3; }, xLabY: 1171, xSize: 48, font: 'ls',
  yLab: function (v) { return aY(v) + 19; }, yLabX: 480, ySize: 56});
drawCurve(root, 'a-overall-survival', aOsTime, aOsSurv, aOsCensor, aX, aY, '#5a6b64', 8, 13, 6);
drawCurve(root, 'a-no-evidence-of-disease', aNedTime, aNedSurv, aNedCensor, aX, aY, '#d0083a', 8, 13, 6);
drawCurve(root, 'a-recurrence-free', aRfsTime, aRfsSurv, aRfsCensor, aX, aY, '#5b97e0', 8, 13, 6);

// Panel E
const eX = function (t) { return 1987.5 + t * 102.95; };
const eY = function (v) { return 1325 - v * 1014; };
drawKMAxes({name: 'e', X: eX, Y: eY, top: 256, left: 1958, right: 3072, w: 5, tickDown: 33, tickLeft: 30,
  xLab: function (t) { return 1980 + t * 104.2; }, xLabY: 1416, xSize: 45, font: 'dj',
  yLab: function (v) { return 1336 - v * 999; }, yLabX: 1937, ySize: 53});
drawCurve(root, 'e-low', eLowTime, eLowSurv, eLowCensor, eX, eY, '#5b97e0', 7, 14, 5);
drawCurve(root, 'e-high', eHighTime, eHighSurv, eHighCensor, eX, eY, '#d0083a', 7, 14, 5);

// Panel F
const fX = function (t) { return 3273 + t * 103; };
const fY = function (v) { return 1325 - v * 1014; };
drawKMAxes({name: 'f', X: fX, Y: fY, top: 256, left: 3242, right: 4359, w: 5, tickDown: 33, tickLeft: 31,
  xLab: function (t) { return 3266 + t * 104.2; }, xLabY: 1414, xSize: 45, font: 'dj',
  yLab: function (v) { return 1334 - v * 999; }, yLabX: 3225, ySize: 53});
drawCurve(root, 'f-low', fLowTime, fLowSurv, fLowCensor, fX, fY, '#5b97e0', 7, 14, 5);
drawCurve(root, 'f-high', fHighTime, fHighSurv, fHighCensor, fX, fY, '#d0083a', 7, 14, 5);

// Box plots
function drawBox(parent, name, s, cx, half, capHalf, Y, boxW, whiskW, fill, medW) {
  const g = named(node(parent, 'g', {}), name);
  const st = {stroke: '#000', fill: 'none', 'stroke-width': whiskW};
  node(g, 'path', Object.assign({d: 'M' + cx + ' ' + Y(s[0]) + ' V' + Y(s[4])}, st));
  if (capHalf) node(g, 'path', Object.assign({d: 'M' + (cx - capHalf) + ' ' + Y(s[0]) + ' H' + (cx + capHalf) + ' M' + (cx - capHalf) + ' ' + Y(s[4]) + ' H' + (cx + capHalf)}, st));
  node(g, 'rect', {x: cx - half, y: Y(s[3]), width: half * 2, height: Y(s[1]) - Y(s[3]), fill: fill, stroke: '#000', 'stroke-width': boxW});
  node(g, 'path', {d: 'M' + (cx - half) + ' ' + Y(s[2]) + ' H' + (cx + half), stroke: '#000', 'stroke-width': medW, fill: 'none'});
}

// Panel D
const dY = function (v) { return 2743 - v * 0.1754; };
const dAxes = named(node(root, 'g', {}), 'd-axes');
node(dAxes, 'path', {d: 'M1426 1816 V2791 H2288', stroke: '#111', 'stroke-width': 4, fill: 'none'});
dYTicks.forEach(function (v, i) {
  const el = label(dAxes, 1388, dY(v) + 15, dYLabels[i], 'ls b', 40, 'end', 'd-y-tick-label');
  el.setAttribute('textLength', v === 0 ? 19 : 74);
  el.setAttribute('lengthAdjust', 'spacingAndGlyphs');
  const tick = node(dAxes, 'path', {d: 'M1400 ' + dY(v) + ' H1426', stroke: '#111', 'stroke-width': 4, fill: 'none'});
  
  
});
drawBox(root, 'd-box-stromal', dStromalBox, 1661, 49, 24, dY, 5.5, 5.5, '#5795e3', 5.5);
drawBox(root, 'd-box-intraepithelial', dIntraBox, 2049, 50, 25, dY, 5.5, 5.5, '#2a8427', 4);
dStromalOutliers.forEach(function (v) {
  const m = node(root, 'circle', {cx: 1661, cy: dY(v), r: 7, fill: '#5795e3', stroke: '#102a4a', 'stroke-width': 5});
  
  
});
dIntraCircles.forEach(function (v) {
  const m = node(root, 'circle', {cx: 2049, cy: dY(v), r: 5.5, fill: '#fff', stroke: '#444', 'stroke-width': 3});
  
  
});
dIntraStars.forEach(function (v) {
  const y = dY(v);
  const m = node(root, 'path', {d: 'M2043 ' + y + ' H2055 M2049 ' + (y - 6) + ' V' + (y + 6), stroke: '#333', 'stroke-width': 3, fill: 'none'});
  
  
});

// Beeswarm layout: values closer than `bin` sit side by side
function swarm(values, bin, step) {
  const bins = {};
  values.forEach(function (v) { const k = Math.round(v / bin); (bins[k] = bins[k] || []).push(v); });
  const out = [];
  Object.keys(bins).forEach(function (k) {
    const list = bins[k];
    list.forEach(function (v, i) { out.push({v: v, off: (i - (list.length - 1) / 2) * step}); });
  });
  return out;
}
function drawGHAxes(name, axisX, tickLeft, right, Y, cats, labelRight) {
  const g = named(node(root, 'g', {}), name + '-axes');
  node(g, 'path', {d: 'M' + axisX + ' ' + Y(8000) + ' V' + Y(0), stroke: '#000', 'stroke-width': 9, fill: 'none'});
  node(g, 'path', {d: 'M' + tickLeft + ' ' + Y(0) + ' H' + right, stroke: '#000', 'stroke-width': 10, fill: 'none'});
  ghYTicks.forEach(function (v, i) {
    const tick = node(g, 'path', {d: 'M' + tickLeft + ' ' + Y(v) + ' H' + axisX, stroke: '#000', 'stroke-width': 8, fill: 'none'});
    
    
    label(g, labelRight, Y(v) + 25, ghYLabels[i], 'ls b', 71, 'end', name + '-y-tick-label');
  });
  cats.forEach(function (cx) {
    const tick = node(g, 'path', {d: 'M' + cx + ' ' + Y(0) + ' V' + (Y(0) + 41), stroke: '#000', 'stroke-width': 9, fill: 'none'});
    
    
  });
}
function triangle(cx, cy, h, up) {
  const s = up ? 1 : -1;
  return 'M' + (cx - h) + ' ' + (cy + s * 20) + ' H' + (cx + h) + ' L' + cx + ' ' + (cy - s * 20) + 'Z';
}
function drawMean(name, s, cx, Y, capHalf, shape) {
  const g = named(node(root, 'g', {}), name);
  node(g, 'path', {d: 'M' + cx + ' ' + Y(s[0]) + ' V' + Y(s[2]) + ' M' + (cx - capHalf) + ' ' + Y(s[0]) + ' H' + (cx + capHalf) + ' M' + (cx - capHalf) + ' ' + Y(s[2]) + ' H' + (cx + capHalf), stroke: '#000', 'stroke-width': 4, fill: 'none'});
  const y = Y(s[1]);
  if (shape === 'circle') node(g, 'ellipse', {cx: cx, cy: y, rx: 20, ry: 19});
  if (shape === 'square') node(g, 'rect', {x: cx - 20, y: y - 19, width: 40, height: 38});
  if (shape === 'up') node(g, 'path', {d: triangle(cx, y, 20, true)});
  if (shape === 'down') node(g, 'path', {d: triangle(cx, y, 21, false)});
}

// Panel G
const gY = function (v) { return 2819 - v * 0.12125; };
drawGHAxes('g', 2752, 2712, 3271, gY, [2899, 3122], 2698);
drawBox(root, 'g-box-low', gLowBox, 2900, 68, 0, gY, 11, 13, '#fff', 11);
drawBox(root, 'g-box-high', gHighBox, 3124, 68, 0, gY, 11, 14, '#fff', 11);
swarm(gLowPointsTop, 100, 19).concat(swarm(gLowPointsBottom, 105, 20)).forEach(function (p) {
  const m = node(root, 'circle', {cx: 2900 + p.off, cy: gY(p.v), r: 22});
  
  
});
swarm(gHighPointsTop, 170, 16).concat(swarm(gHighPointsBottom, 300, 16)).forEach(function (p) {
  const m = node(root, 'rect', {x: 3124 + p.off - 21, y: gY(p.v) - 21, width: 42, height: 42});
  
  
});
drawMean('g-mean-low', gLowMean, 3016, gY, 20, 'circle');
drawMean('g-mean-high', gHighMean, 3239, gY, 20, 'square');

// Panel H
const hY = function (v) { return 2815 - v * 0.121; };
drawGHAxes('h', 3843, 3803, 4375, hY, [3996, 4220], 3791);
drawBox(root, 'h-box-low', hLowBox, 3996, 70, 0, hY, 9, 10, '#fff', 9);
drawBox(root, 'h-box-high', hHighBox, 4220, 66, 37, hY, 12, 13, '#fff', 11);
swarm(hLowPoints, 130, 11).forEach(function (p) {
  const m = node(root, 'path', {d: triangle(3996 + p.off, hY(p.v), 22, true)});
  
  
});
swarm(hHighPointsTop, 160, 10).concat(swarm(hHighPointsBottom, 100, 8)).forEach(function (p) {
  const m = node(root, 'path', {d: triangle(4220 + p.off, hY(p.v), 22, false)});
  
  
});
drawMean('h-mean-low', hLowMean, 4112, hY, 20, 'up');
drawMean('h-mean-high', hHighMean, 4336, hY, 20, 'down');
</script>
</body>
</html>
